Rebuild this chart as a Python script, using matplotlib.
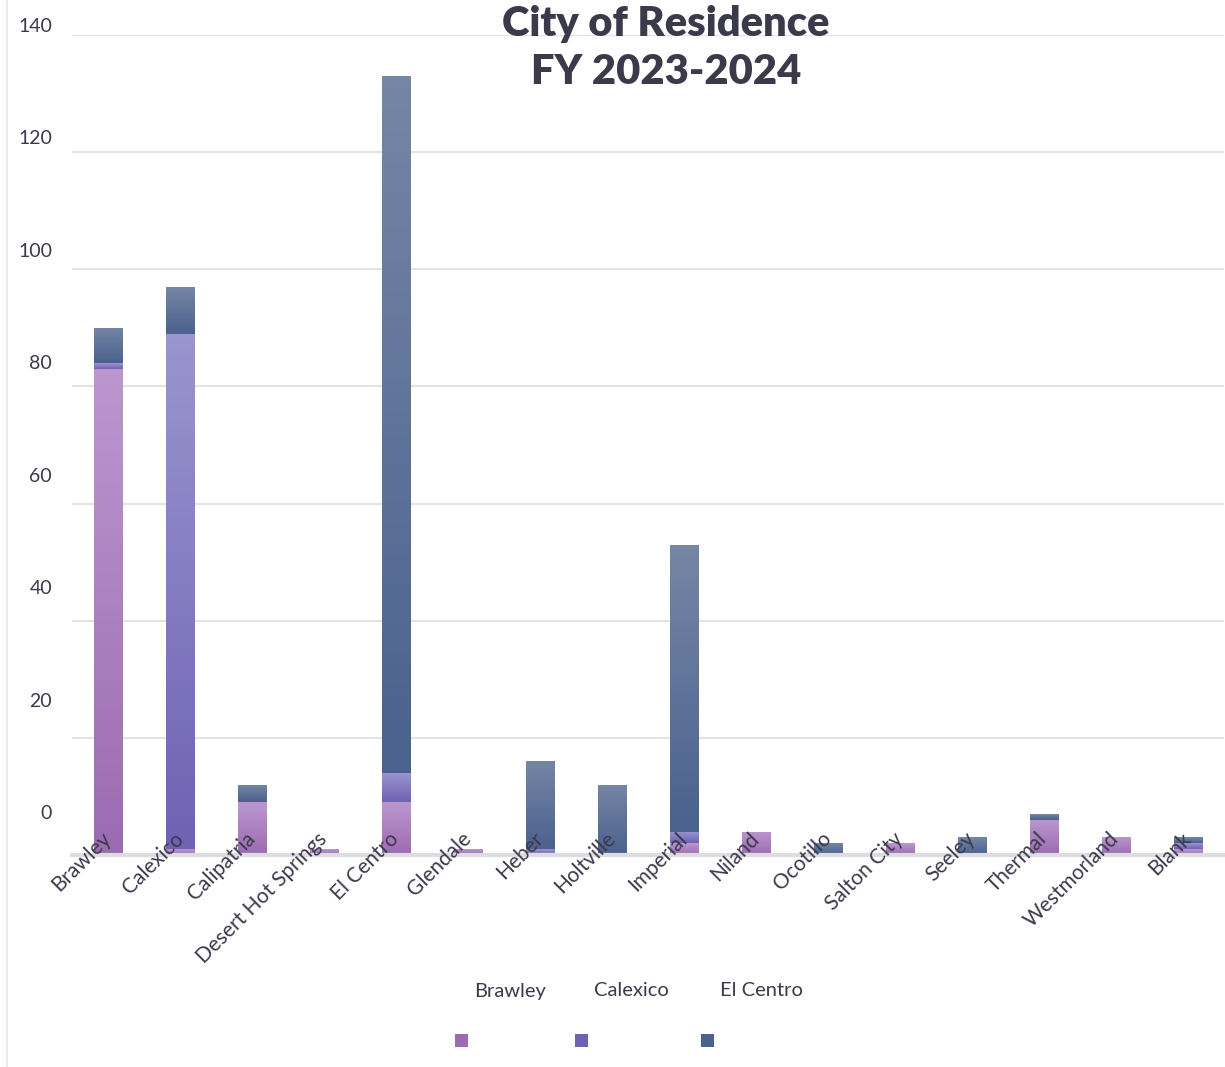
import numpy as np
import matplotlib.pyplot as plt
from matplotlib.colors import LinearSegmentedColormap
from matplotlib.patches import Rectangle
from matplotlib.lines import Line2D

plt.rcParams['font.family'] = ['Lato', 'DejaVu Sans']

cities = ['Brawley', 'Calexico', 'Calipatria', 'Desert Hot Springs', 'El Centro',
          'Glendale', 'Heber', 'Holtville', 'Imperial', 'Niland', 'Ocotillo',
          'Salton City', 'Seeley', 'Thermal', 'Westmorland', 'Blank']
series = ['Brawley', 'Calexico', 'El Centro']

brawley = [83, 1, 9, 1, 9, 1, 0, 0, 2, 4, 0, 2, 0, 6, 3, 1]
calexico = [1, 88, 0, 0, 5, 0, 1, 0, 2, 0, 0, 0, 0, 0, 0, 1]
el_centro = [6, 8, 3, 0, 119, 0, 15, 12, 49, 0, 2, 0, 3, 1, 0, 1]

y_ticks = [0, 20, 40, 60, 80, 100, 120, 140]

# gradient colours per series: (top, bottom)
grads = [('#bb97ce', '#9c6bb2'),
         ('#9a95cf', '#6f62b3'),
         ('#7586a5', '#4b618e')]
text_col = '#3b3a4a'
grid_col = '#e2e2e8'

W, H = 1225, 1067
fig = plt.figure(figsize=(W / 100, H / 100), dpi=100)
ax = fig.add_axes([72 / W, (H - 855) / H, 1152 / W, 820 / H])

x = np.arange(len(cities))
bottom = np.zeros(len(cities))
for vals, (c_top, c_bot) in zip([brawley, calexico, el_centro], grads):
    vals = np.array(vals, dtype=float)
    bars = ax.bar(x, vals, width=0.4, bottom=bottom, color='none', zorder=1)
    cmap = LinearSegmentedColormap.from_list('g', [c_bot, c_top])
    for b in bars:
        if b.get_height() <= 0:
            continue
        x0, y0 = b.get_x(), b.get_y()
        im = ax.imshow(np.linspace(0, 1, 64).reshape(-1, 1), cmap=cmap,
                       origin='lower', aspect='auto', zorder=1,
                       extent=[x0, x0 + b.get_width(), y0, y0 + b.get_height()])
        im.set_clip_path(b)
    bottom += vals

ax.set_xlim(-0.5, len(cities) - 0.5)
ax.set_ylim(0, 140)
ax.set_yticks(y_ticks)
ax.set_yticklabels([])
ax.tick_params(axis='y', length=0)
# gridlines under the bars, tick labels above them
ax.set_axisbelow(False)
for v in y_ticks[1:]:
    ax.axhline(v, color=grid_col, linewidth=1.5, zorder=0.5)
for s in ['top', 'right', 'left']:
    ax.spines[s].set_visible(False)
ax.spines['bottom'].set_color('#dcdce3')
ax.spines['bottom'].set_linewidth(3)
ax.spines['bottom'].set_zorder(1.5)

ax.set_xticks(x)
ax.set_xticklabels(cities, rotation=45, ha='right', va='center',
                   rotation_mode='anchor', fontsize=15, color=text_col)
ax.tick_params(axis='x', length=0, pad=-14)

# y labels sit on their own slightly shorter scale
ax_lab = fig.add_axes([52 / W, (H - 812) / H, 1 / W, (812 - 25) / H])
ax_lab.set_ylim(0, 140)
ax_lab.set_yticks(y_ticks)
ax_lab.set_yticklabels([str(v) for v in y_ticks], fontsize=14, color=text_col)
ax_lab.tick_params(axis='y', length=0, pad=0)
ax_lab.set_xticks([])
for s in ax_lab.spines.values():
    s.set_visible(False)
ax_lab.patch.set_visible(False)

fig.text(666 / W, 1 - 48 / H, 'City of Residence\nFY 2023-2024', ha='center',
         va='center', fontsize=30, fontweight='heavy', color=text_col, linespacing=1.33)

# left border line
fig.add_artist(Line2D([7 / W, 7 / W], [0, 1], color='#e4e4ea', linewidth=1.2))

# legend: names above, swatches below
leg_x = [455, 575, 701]
for name, (c_top, c_bot), lx in zip(series, grads, leg_x):
    fig.text((lx + 19) / W, 1 - 991 / H, name, ha='left', va='center',
             fontsize=14.5, color=text_col)
    fig.add_artist(Rectangle((lx / W, 1 - 1047 / H), 13 / W, 13 / H,
                             facecolor=c_bot, edgecolor='none',
                             transform=fig.transFigure))

fig.savefig('out.png', dpi=100)
